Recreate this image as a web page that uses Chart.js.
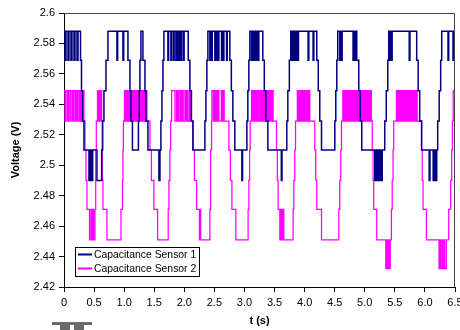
<!DOCTYPE html>
<html>
<head>
<meta charset="utf-8">
<script src="https://cdn.jsdelivr.net/npm/chart.js@4"></script>
<style>
  body { margin: 0; background: #fff; }
  #wrap { width: 460px; height: 330px; }
</style>
</head>
<body>
<div id="wrap"><canvas id="chart" width="460" height="330"></canvas></div>
<script>
// sensor 1 (navy) : time (s) / voltage (V), sample-and-hold steps
const s1Time = [
  0, 0.017, 0.033, 0.066, 0.083, 0.116, 0.133, 0.166, 0.183, 0.216, 0.233, 0.274, 0.291, 0.307, 0.332,
  0.415, 0.427, 0.440, 0.452, 0.465, 0.477, 0.548, 0.626, 0.643, 0.664, 0.698, 0.731,
  0.880, 0.892, 0.980, 0.992, 1.063, 1.096, 1.113, 1.138,
  1.237, 1.251, 1.262, 1.279, 1.312, 1.346, 1.362, 1.395, 1.578, 1.595, 1.611, 1.628, 1.645, 1.661,
  1.727, 1.739, 1.777, 1.789, 1.819, 1.831, 1.860, 1.872, 1.894, 1.905, 1.919, 1.930, 1.943, 1.955, 1.985, 1.997,
  2.065, 2.093, 2.118, 2.143, 2.342, 2.359, 2.375, 2.392,
  2.425, 2.437, 2.453, 2.465, 2.508, 2.520, 2.536, 2.548, 2.563, 2.575, 2.619, 2.631, 2.646, 2.658, 2.702, 2.714,
  2.757, 2.782, 2.807, 2.840, 2.957, 2.968, 3.040, 3.056, 3.073, 3.090,
  3.118, 3.129, 3.144, 3.156, 3.173, 3.184, 3.201, 3.212, 3.228, 3.239,
  3.305, 3.330, 3.355, 3.389, 3.613, 3.624, 3.704, 3.721, 3.746, 3.770,
  3.787, 3.799, 3.812, 3.824, 3.837, 3.849, 3.862, 3.874, 3.887, 3.898, 4.058, 4.070, 4.141, 4.153,
  4.202, 4.227, 4.252, 4.281, 4.502, 4.518, 4.535, 4.551,
  4.585, 4.596, 4.613, 4.624, 4.805, 4.817, 4.828, 4.840, 4.850, 4.862,
  4.867, 4.900, 4.925, 4.950, 5.166, 5.183, 5.194, 5.208, 5.221, 5.236, 5.249, 5.266, 5.277, 5.290,
  5.332, 5.357, 5.382, 5.398, 5.420, 5.432, 5.443, 5.455, 5.739, 5.751,
  5.863, 5.888, 5.913, 5.946, 6.071, 6.084, 6.137, 6.154, 6.174, 6.196,
  6.212, 6.237, 6.262, 6.279, 6.384, 6.395, 6.467, 6.478, 6.495
];
const s1Volt = [
  2.588, 2.569, 2.588, 2.569, 2.588, 2.569, 2.588, 2.569, 2.588, 2.569, 2.588, 2.569, 2.549, 2.529, 2.510,
  2.490, 2.510, 2.490, 2.510, 2.490, 2.510, 2.490, 2.510, 2.529, 2.549, 2.569, 2.588,
  2.569, 2.588, 2.569, 2.588, 2.569, 2.549, 2.529, 2.510,
  2.529, 2.549, 2.569, 2.588, 2.569, 2.549, 2.529, 2.510, 2.490, 2.510, 2.529, 2.549, 2.569, 2.588,
  2.569, 2.588, 2.569, 2.588, 2.569, 2.588, 2.569, 2.588, 2.569, 2.588, 2.569, 2.588, 2.569, 2.588, 2.569, 2.588,
  2.569, 2.549, 2.529, 2.510, 2.529, 2.549, 2.569, 2.588,
  2.569, 2.588, 2.569, 2.588, 2.569, 2.588, 2.569, 2.588, 2.569, 2.588, 2.569, 2.588, 2.569, 2.588, 2.569, 2.588,
  2.569, 2.549, 2.529, 2.510, 2.490, 2.510, 2.529, 2.549, 2.569, 2.588,
  2.569, 2.588, 2.569, 2.588, 2.569, 2.588, 2.569, 2.588, 2.569, 2.588,
  2.569, 2.549, 2.529, 2.510, 2.490, 2.510, 2.529, 2.549, 2.569, 2.588,
  2.569, 2.588, 2.569, 2.588, 2.569, 2.588, 2.569, 2.588, 2.569, 2.588, 2.569, 2.588, 2.569, 2.588,
  2.569, 2.549, 2.529, 2.510, 2.529, 2.549, 2.569, 2.588,
  2.569, 2.588, 2.569, 2.588, 2.569, 2.588, 2.569, 2.588, 2.569, 2.588,
  2.569, 2.549, 2.529, 2.510, 2.490, 2.510, 2.490, 2.510, 2.490, 2.510, 2.490, 2.510, 2.490, 2.510,
  2.529, 2.549, 2.569, 2.588, 2.569, 2.588, 2.569, 2.588, 2.569, 2.588,
  2.569, 2.549, 2.529, 2.510, 2.490, 2.510, 2.490, 2.510, 2.490, 2.510,
  2.529, 2.549, 2.569, 2.588, 2.569, 2.588, 2.569, 2.588, 2.588
];

// sensor 2 (magenta)
const s2Time = [
  0, 0.017, 0.033, 0.058, 0.075, 0.100, 0.116, 0.141, 0.158, 0.183, 0.199, 0.216, 0.233, 0.257, 0.274, 0.299, 0.316, 0.332,
  0.349, 0.365, 0.382, 0.424, 0.448, 0.465, 0.482, 0.493, 0.515, 0.527, 0.537,
  0.556, 0.573, 0.590, 0.606, 0.615, 0.626, 0.636, 0.648, 0.714, 0.947, 0.972, 0.980, 0.988,
  1.005, 1.021, 1.038, 1.055, 1.071, 1.088, 1.105, 1.121, 1.138, 1.154, 1.171, 1.188, 1.204, 1.221,
  1.237, 1.254, 1.271, 1.287, 1.304, 1.321, 1.337, 1.354, 1.367, 1.379,
  1.429, 1.453, 1.495, 1.556, 1.732, 1.744, 1.761, 1.773,
  1.789, 1.844, 1.869, 1.886, 1.899, 1.910, 1.935, 1.948, 1.968, 1.982, 2.010, 2.022, 2.038, 2.051, 2.076, 2.090, 2.105, 2.118,
  2.148, 2.168, 2.204, 2.251, 2.262, 2.272, 2.425, 2.437, 2.453,
  2.458, 2.483, 2.500, 2.516, 2.536, 2.550, 2.563, 2.575, 2.616, 2.629, 2.646, 2.663,
  2.741, 2.766, 2.791, 2.857, 3.061, 3.073, 3.085, 3.095,
  3.118, 3.134, 3.151, 3.168, 3.189, 3.206, 3.223, 3.239, 3.261, 3.277, 3.294, 3.311,
  3.330, 3.347, 3.364, 3.380, 3.397, 3.414, 3.430, 3.447, 3.463, 3.477,
  3.533, 3.546, 3.560, 3.588, 3.605, 3.621, 3.638, 3.654, 3.809, 3.821, 3.837, 3.849,
  3.879, 3.896, 3.912, 3.929, 3.945, 3.962, 3.979, 3.995, 4.012, 4.028, 4.045, 4.061, 4.075, 4.086,
  4.169, 4.186, 4.202, 4.281, 4.568, 4.585, 4.601, 4.613,
  4.635, 4.651, 4.668, 4.684, 4.701, 4.718, 4.734, 4.751, 4.768, 4.784, 4.801, 4.817, 4.834, 4.851, 4.867,
  4.884, 4.900, 4.917, 4.934, 4.950, 4.967, 4.983, 5.000, 5.016, 5.033, 5.050, 5.066, 5.083, 5.100, 5.111,
  5.124, 5.138, 5.149, 5.199, 5.349, 5.365, 5.377, 5.393, 5.403, 5.423, 5.443, 5.456, 5.470, 5.481,
  5.526, 5.543, 5.559, 5.576, 5.593, 5.609, 5.626, 5.643, 5.659, 5.676, 5.692, 5.709,
  5.726, 5.742, 5.759, 5.775, 5.792, 5.809, 5.825, 5.842, 5.859, 5.872,
  5.942, 5.955, 5.969, 6.025, 6.234, 6.254, 6.262, 6.284, 6.295, 6.317, 6.329, 6.357,
  6.395, 6.428, 6.445, 6.457, 6.470, 6.495
];
const s2Volt = [
  2.549, 2.529, 2.549, 2.529, 2.549, 2.529, 2.549, 2.529, 2.549, 2.529, 2.549, 2.529, 2.549, 2.529, 2.549, 2.529, 2.549, 2.529,
  2.510, 2.490, 2.471, 2.451, 2.471, 2.451, 2.471, 2.451, 2.471, 2.510, 2.529,
  2.549, 2.529, 2.549, 2.529, 2.549, 2.529, 2.490, 2.471, 2.451, 2.471, 2.490, 2.510, 2.529,
  2.549, 2.529, 2.549, 2.529, 2.549, 2.529, 2.549, 2.529, 2.549, 2.529, 2.549, 2.529, 2.549, 2.529,
  2.549, 2.529, 2.549, 2.529, 2.549, 2.529, 2.549, 2.529, 2.549, 2.529,
  2.510, 2.490, 2.471, 2.451, 2.471, 2.490, 2.510, 2.529,
  2.549, 2.529, 2.549, 2.529, 2.549, 2.529, 2.549, 2.529, 2.549, 2.529, 2.549, 2.529, 2.549, 2.529, 2.549, 2.529, 2.549, 2.529,
  2.510, 2.490, 2.471, 2.451, 2.471, 2.451, 2.471, 2.510, 2.529,
  2.549, 2.529, 2.549, 2.529, 2.549, 2.529, 2.549, 2.529, 2.549, 2.529, 2.549, 2.529,
  2.510, 2.490, 2.471, 2.451, 2.471, 2.490, 2.510, 2.529,
  2.549, 2.529, 2.549, 2.529, 2.549, 2.529, 2.549, 2.529, 2.549, 2.529, 2.549, 2.529,
  2.549, 2.529, 2.549, 2.529, 2.549, 2.529, 2.549, 2.529, 2.549, 2.529,
  2.510, 2.490, 2.471, 2.451, 2.471, 2.451, 2.471, 2.451, 2.471, 2.490, 2.510, 2.529,
  2.549, 2.529, 2.549, 2.529, 2.549, 2.529, 2.549, 2.529, 2.549, 2.529, 2.549, 2.529, 2.549, 2.529,
  2.510, 2.490, 2.471, 2.451, 2.471, 2.490, 2.510, 2.529,
  2.549, 2.529, 2.549, 2.529, 2.549, 2.529, 2.549, 2.529, 2.549, 2.529, 2.549, 2.529, 2.549, 2.529, 2.549,
  2.529, 2.549, 2.529, 2.549, 2.529, 2.549, 2.529, 2.549, 2.529, 2.549, 2.529, 2.549, 2.529, 2.549, 2.529,
  2.510, 2.490, 2.471, 2.451, 2.432, 2.451, 2.432, 2.451, 2.432, 2.451, 2.471, 2.490, 2.510, 2.529,
  2.549, 2.529, 2.549, 2.529, 2.549, 2.529, 2.549, 2.529, 2.549, 2.529, 2.549, 2.529,
  2.549, 2.529, 2.549, 2.529, 2.549, 2.529, 2.549, 2.529, 2.549, 2.529,
  2.510, 2.490, 2.471, 2.451, 2.432, 2.451, 2.432, 2.451, 2.432, 2.451, 2.432, 2.451,
  2.471, 2.490, 2.510, 2.529, 2.549, 2.549
];

const seriesNames = ["Capacitance Sensor 1", "Capacitance Sensor 2"];
const seriesColors = ["#000080", "#ff00ff"];
const xTitle = "t (s)";
const yTitle = "Voltage (V)";

const FONT = "'Liberation Sans', Arial, sans-serif";
Chart.defaults.font.family = FONT;
Chart.defaults.font.size = 11;
Chart.defaults.color = "#000";

function toPoints(xs, ys) {
  return xs.map((x, i) => ({ x: x, y: ys[i] }));
}

// frame (top/right), legend box and the logo fragment
const extras = {
  id: "extras",
  afterDraw(chart) {
    const c = chart.ctx;
    const a = chart.chartArea;
    c.save();
    c.strokeStyle = "#444";
    c.lineWidth = 1;
    c.beginPath();
    c.moveTo(a.left, a.top + 0.5);
    c.lineTo(a.right - 0.5, a.top + 0.5);
    c.lineTo(a.right - 0.5, a.bottom);
    c.stroke();

    // legend
    const lx = 75, ly = 247, lw = 124, lh = 29;
    c.fillStyle = "#fff";
    c.fillRect(lx, ly, lw, lh);
    c.strokeStyle = "#000";
    c.strokeRect(lx + 0.5, ly + 0.5, lw, lh);
    c.font = "10.4px " + FONT;
    c.textBaseline = "middle";
    chart.data.datasets.forEach((ds, i) => {
      const y = ly + 7.5 + i * 14;
      c.strokeStyle = ds.borderColor;
      c.lineWidth = 2;
      c.beginPath();
      c.moveTo(78, y);
      c.lineTo(92, y);
      c.stroke();
      c.fillStyle = "#000";
      c.fillText(ds.label, 94, y + 0.5);
    });

    // cut-off logo at the bottom edge
    c.fillStyle = "#6a6a6a";
    c.fillRect(52, 322, 40, 3);
    c.fillRect(60, 325, 24, 5);
    c.fillStyle = "#fff";
    c.fillRect(70, 325, 4, 5);
    c.restore();
  }
};

new Chart(document.getElementById("chart"), {
  type: "line",
  data: {
    datasets: [
      {
        label: seriesNames[0],
        data: toPoints(s1Time, s1Volt),
        borderColor: seriesColors[0],
        borderWidth: 1.5,
        pointRadius: 0,
        stepped: true,
        fill: false
      },
      {
        label: seriesNames[1],
        data: toPoints(s2Time, s2Volt),
        borderColor: seriesColors[1],
        borderWidth: 1.25,
        pointRadius: 0,
        stepped: true,
        fill: false
      }
    ]
  },
  options: {
    responsive: false,
    animation: false,
    devicePixelRatio: 1,
    layout: { padding: { top: 13, right: 5, left: 0, bottom: 0 } },
    plugins: {
      legend: { display: false },
      tooltip: { enabled: false }
    },
    scales: {
      x: {
        type: "linear",
        min: 0,
        max: 6.5,
        ticks: { stepSize: 0.5, padding: 4, maxRotation: 0, autoSkip: false },
        grid: { drawOnChartArea: false, drawTicks: true, tickLength: 5, color: "#000" },
        border: { display: true, color: "#000", width: 1 },
        title: { display: true, text: xTitle, font: { weight: "bold", size: 11 }, padding: { top: 2, bottom: 2 } },
        afterFit(scale) {
          scale.height = 43;
          scale.paddingLeft = 0;
          scale.paddingRight = 0;
        }
      },
      y: {
        min: 2.42,
        max: 2.6,
        ticks: {
          stepSize: 0.02,
          padding: 4,
          callback: (v) => String(Number(v.toFixed(2)))
        },
        grid: { drawOnChartArea: false, drawTicks: true, tickLength: 5, color: "#000" },
        border: { display: true, color: "#000", width: 1 },
        title: { display: true, text: yTitle, font: { weight: "bold", size: 11 }, padding: { top: 9, bottom: 0 } },
        afterFit(scale) {
          scale.width = 64;
          scale.paddingTop = 0;
          scale.paddingBottom = 0;
        }
      }
    }
  },
  plugins: [extras]
});
</script>
</body>
</html>
